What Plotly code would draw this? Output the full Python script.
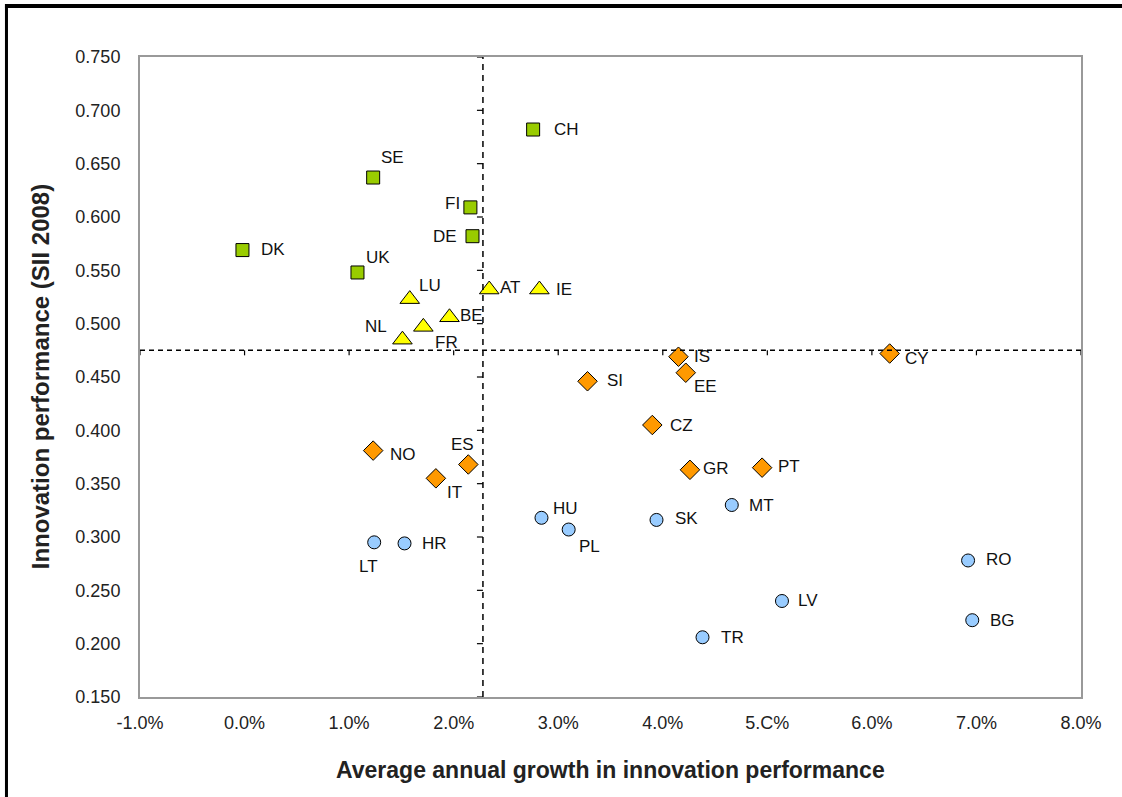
import plotly.graph_objects as go

# ---------------- data ----------------
leaders = ["CH", "SE", "FI", "DE", "DK", "UK"]
leaders_x = [2.76, 1.23, 2.16, 2.18, -0.02, 1.08]
leaders_y = [0.682, 0.637, 0.609, 0.582, 0.569, 0.548]

followers = ["LU", "AT", "IE", "BE", "FR", "NL"]
followers_x = [1.58, 2.34, 2.82, 1.96, 1.71, 1.51]
followers_y = [0.523, 0.532, 0.532, 0.506, 0.497, 0.485]

moderate = ["IS", "CY", "SI", "EE", "CZ", "GR", "PT", "NO", "ES", "IT"]
moderate_x = [4.15, 6.17, 3.28, 4.22, 3.90, 4.26, 4.95, 1.23, 2.14, 1.83]
moderate_y = [0.469, 0.472, 0.446, 0.454, 0.405, 0.363, 0.365, 0.381, 0.368, 0.355]

catching = ["HU", "PL", "SK", "MT", "RO", "LV", "BG", "TR", "LT", "HR"]
catching_x = [2.84, 3.10, 3.94, 4.66, 6.92, 5.14, 6.96, 4.38, 1.24, 1.53]
catching_y = [0.318, 0.307, 0.316, 0.330, 0.278, 0.240, 0.222, 0.206, 0.295, 0.294]

avg_growth = 2.28
avg_perf = 0.475

x_ticks = [-1, 0, 1, 2, 3, 4, 5, 6, 7, 8]
x_tick_labels = ["-1.0%", "0.0%", "1.0%", "2.0%", "3.0%", "4.0%", "5.C%", "6.0%", "7.0%", "8.0%"]
y_ticks = [0.15, 0.2, 0.25, 0.3, 0.35, 0.4, 0.45, 0.5, 0.55, 0.6, 0.65, 0.7, 0.75]
y_tick_labels = ["0.150", "0.200", "0.250", "0.300", "0.350", "0.400", "0.450",
                 "0.500", "0.550", "0.600", "0.650", "0.700", "0.750"]

# ---------------- label offsets (px) ----------------
offsets = {
    "CH": (33, 0), "SE": (19, 20), "FI": (-18, 4), "DE": (-27, 0), "DK": (31, 1),
    "UK": (21, 15), "LU": (20, 14), "AT": (21, 2), "IE": (25, 0), "BE": (22, 2),
    "FR": (23, -16), "NL": (-26, 13), "IS": (24, 0), "CY": (27, -5), "SI": (27, 1),
    "EE": (20, -14), "CZ": (29, 0), "GR": (26, 1), "PT": (27, 1), "NO": (30, -4),
    "ES": (-6, 20), "IT": (19, -14), "HU": (24, 9), "PL": (21, -17), "SK": (30, 1),
    "MT": (30, 0), "RO": (31, 1), "LV": (26, 1), "BG": (30, 0), "TR": (30, 0),
    "LT": (-6, -24), "HR": (30, 0),
}

FONT = "Liberation Sans, Arial, sans-serif"

fig = go.Figure()

groups = [
    (leaders, leaders_x, leaders_y, "square", "#99CC00", 13),
    (followers, followers_x, followers_y, "triangle-up", "#FFFF00", 17),
    (moderate, moderate_x, moderate_y, "diamond", "#FF9900", 15),
    (catching, catching_x, catching_y, "circle", "#99CCFF", 13),
]

for names, xs, ys, sym, col, size in groups:
    fig.add_trace(go.Scatter(
        x=xs, y=ys, mode="markers", text=names, hoverinfo="text",
        marker=dict(symbol=sym, color=col, size=size, line=dict(color="black", width=1)),
        showlegend=False,
    ))

annotations = []
for names, xs, ys, *_ in groups:
    for n, x, y in zip(names, xs, ys):
        dx, dy = offsets[n]
        annotations.append(dict(
            x=x, y=y, xref="x", yref="y", text=n, showarrow=False,
            xanchor="center", yanchor="middle", xshift=dx, yshift=dy,
            font=dict(family=FONT, size=17, color="#111111"),
        ))

# axis titles
annotations.append(dict(
    x=0.5, y=-0.114, xref="paper", yref="paper", showarrow=False,
    text="<b>Average annual growth in innovation performance</b>",
    xanchor="center", yanchor="middle",
    font=dict(family=FONT, size=23, color="#222222"),
))
annotations.append(dict(
    x=-0.106, y=0.5, xref="paper", yref="paper", showarrow=False,
    text="<b>Innovation performance (SII 2008)</b>", textangle=-90,
    xanchor="center", yanchor="middle",
    font=dict(family=FONT, size=24, color="#222222"),
))

shapes = [
    # outer frame: top bar and left bar (filled thin rectangles)
    dict(type="rect", xref="paper", yref="paper", x0=-0.1435, x1=1.2, y0=1.0766, y1=1.0828,
         line=dict(width=0), fillcolor="black", layer="above"),
    dict(type="rect", xref="paper", yref="paper", x0=-0.1435, x1=-0.1403, y0=-0.2, y1=1.0828,
         line=dict(width=0), fillcolor="black", layer="above"),
    # average reference lines
    dict(type="line", xref="x", yref="y", x0=-1, x1=8, y0=avg_perf, y1=avg_perf,
         line=dict(color="black", width=1.5, dash="5px,4px")),
    dict(type="line", xref="x", yref="y", x0=avg_growth, x1=avg_growth, y0=0.15, y1=0.75,
         line=dict(color="black", width=1.5, dash="6px,5px")),
]
# small tick marks along the average lines
for t in x_ticks:
    shapes.append(dict(type="line", xref="x", yref="y", ysizemode="pixel", yanchor=avg_perf,
                       x0=t, x1=t, y0=0, y1=-5, line=dict(color="black", width=1.2)))
for t in y_ticks:
    shapes.append(dict(type="line", xref="x", yref="y", xsizemode="pixel", xanchor=avg_growth,
                       x0=-6, x1=0, y0=t, y1=t, line=dict(color="black", width=1.2)))

fig.update_layout(
    width=1122, height=797,
    margin=dict(l=140, r=41, t=57, b=100),
    paper_bgcolor="white", plot_bgcolor="white",
    font=dict(family=FONT, size=16, color="#222222"),
    annotations=annotations, shapes=shapes,
    xaxis=dict(range=[-1, 8], tickvals=x_ticks, ticktext=x_tick_labels,
               showgrid=False, zeroline=False, showline=True, mirror=True,
               linecolor="#999999", linewidth=2, ticks="", ticklabelstandoff=8,
               tickfont=dict(family=FONT, size=18, color="#222222")),
    yaxis=dict(range=[0.15, 0.75], tickvals=y_ticks, ticktext=y_tick_labels,
               showgrid=False, zeroline=False, showline=True, mirror=True,
               linecolor="#999999", linewidth=2, ticks="", ticklabelstandoff=14,
               tickfont=dict(family=FONT, size=18, color="#222222")),
    hovermode="closest",
)

fig.write_html("out.html", config={"displayModeBar": False},
               post_script="document.body.style.margin='0';document.body.style.overflow='hidden';")
